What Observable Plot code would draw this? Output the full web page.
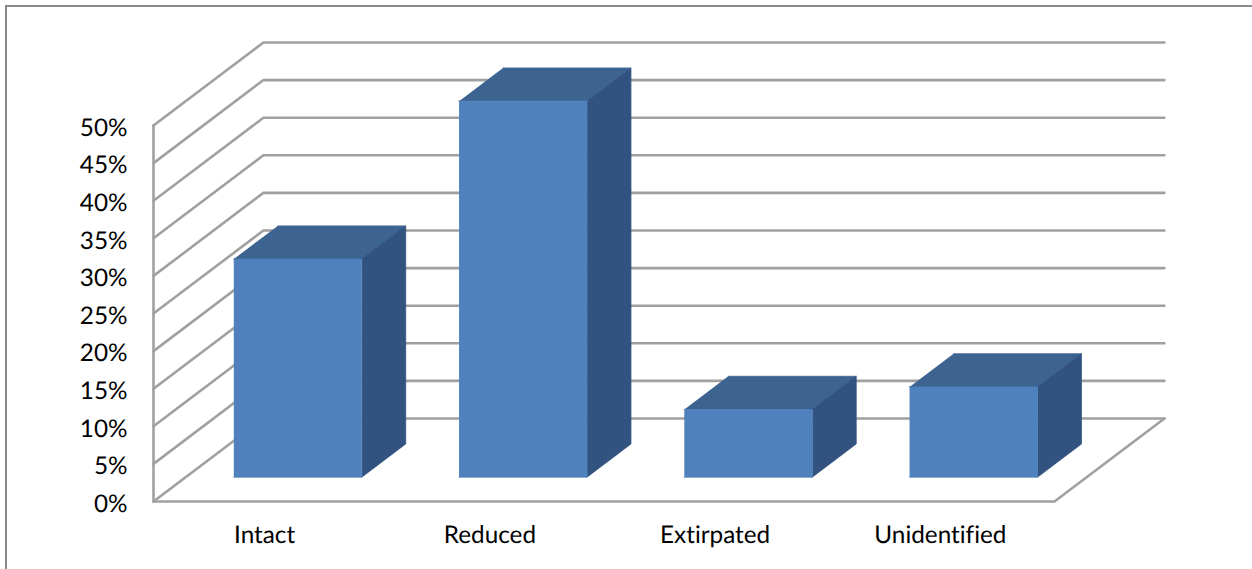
<!DOCTYPE html>
<html>
<head>
<meta charset="utf-8">
<script src="https://cdn.jsdelivr.net/npm/d3@7"></script>
<script src="https://cdn.jsdelivr.net/npm/@observablehq/plot@0.6"></script>
<style>
  html, body { margin: 0; padding: 0; background: #fff; overflow: hidden; width: 1252px; height: 569px; }
  svg { display: block; position: absolute; left: 0; top: 0; }
  svg text { font-variant-ligatures: none; font-feature-settings: "liga" 0; text-rendering: geometricPrecision; }
  #frame { position: absolute; left: 5px; top: 4.5px; width: 1400px; height: 800px; border: 2px solid #8a8a8a; }
</style>
</head>
<body>
<div id="frame"></div>
<div id="chart"></div>
<script>
const categories = ["Intact", "Reduced", "Extirpated", "Unidentified"];
const shares = [29, 50, 9, 12];
const yTicks = [0, 5, 10, 15, 20, 25, 30, 35, 40, 45, 50];

// Oblique projection, in data units: depth 0 is the front of the floor, 1 is the back wall.
const depthX = 0.488, depthY = 11.04;
const barInset = 0.2135, barWidth = 0.568, barFront = 0.293, barBack = 0.693;
const pt = (x, v, d, id) => ({x: x + d * depthX, y: v + d * depthY, id});

const grid = yTicks.flatMap((v) => [pt(0, v, 0, v), pt(0, v, 1, v), pt(4, v, 1, v)]);
const floorEdge = [pt(0, 0, 0), pt(4, 0, 0), pt(4, 0, 1)];
const wallEdge = [pt(0, 0, 0), pt(0, 50, 0)];

const face = (fn) => shares.flatMap((v, i) => {
  const l = i + barInset, r = l + barWidth;
  return fn(l, r, v).map(([x, val, d]) => pt(x, val, d, i));
});
const frontFaces = face((l, r, v) => [[l, 0, barFront], [r, 0, barFront], [r, v, barFront], [l, v, barFront]]);
const topFaces = face((l, r, v) => [[l, v, barFront], [r, v, barFront], [r, v, barBack], [l, v, barBack]]);
const sideFaces = face((l, r, v) => [[r, 0, barFront], [r, 0, barBack], [r, v, barBack], [r, v, barFront]]);

const gridStyle = {x: "x", y: "y", stroke: "#a0a0a0", strokeWidth: 2.6, curve: "linear"};
const faceStyle = (fill) => ({x: "x", y: "y", z: "id", fill, stroke: fill, strokeWidth: 0.8, curve: "linear"});

const chart = Plot.plot({
  width: 1252,
  height: 569,
  marginLeft: 153,
  marginRight: 198,
  marginTop: 125,
  marginBottom: 68,
  style: {fontFamily: "Lato, sans-serif", fontSize: "24.3px", color: "#000", background: "transparent", overflow: "visible"},
  x: {type: "linear", domain: [0, 4], axis: null},
  y: {type: "linear", domain: [0, 50], axis: null},
  marks: [
    Plot.line(grid, {...gridStyle, z: "id"}),
    Plot.line(floorEdge, gridStyle),
    Plot.line(wallEdge, gridStyle),
    Plot.line(topFaces, faceStyle("#3d6391")),
    Plot.line(sideFaces, faceStyle("#325380")),
    Plot.line(frontFaces, faceStyle("#4f81bd")),
    Plot.axisY({
      anchor: "left", ticks: yTicks, tickFormat: (d) => d + "%", tickSize: 0, tickPadding: 26,
      label: null, fontSize: 24.3, dy: 2.5
    }),
    Plot.axisX({
      anchor: "bottom", ticks: categories.map((_, i) => i + 0.5),
      tickFormat: (d) => categories[Math.floor(d)], tickSize: 0, tickPadding: 24,
      label: null, fontSize: 24.3, dx: -1.5
    })
  ]
});
document.getElementById("chart").append(chart);
</script>
</body>
</html>
